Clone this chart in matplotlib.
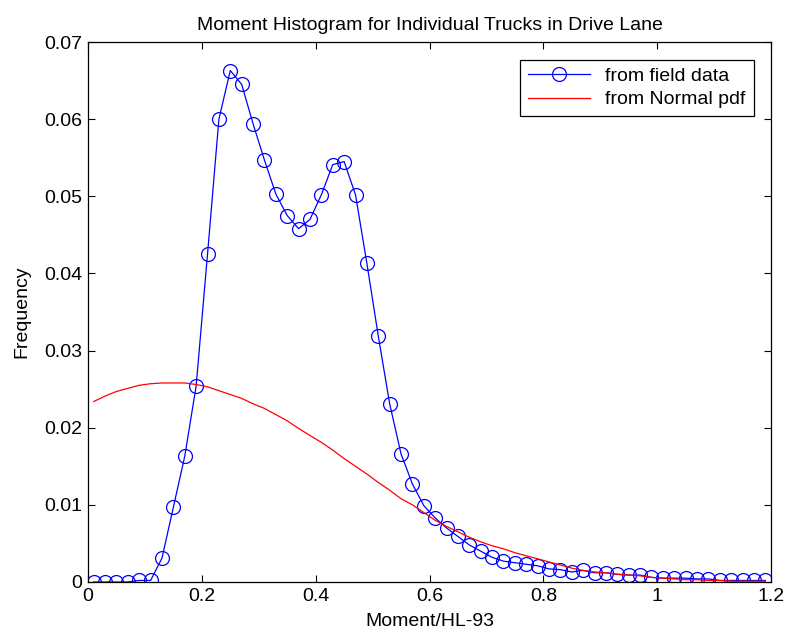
#!/usr/bin/python
import matplotlib
matplotlib.use('Agg')
import matplotlib.pyplot as plt
import numpy as np

# bin centres (Moment/HL-93)
moment = [0.01, 0.03, 0.05, 0.07, 0.09, 0.11, 0.13, 0.15, 0.17, 0.19,
          0.21, 0.23, 0.25, 0.27, 0.29, 0.31, 0.33, 0.35, 0.37, 0.39,
          0.41, 0.43, 0.45, 0.47, 0.49, 0.51, 0.53, 0.55, 0.57, 0.59,
          0.61, 0.63, 0.65, 0.67, 0.69, 0.71, 0.73, 0.75, 0.77, 0.79,
          0.81, 0.83, 0.85, 0.87, 0.89, 0.91, 0.93, 0.95, 0.97, 0.99,
          1.01, 1.03, 1.05, 1.07, 1.09, 1.11, 1.13, 1.15, 1.17, 1.19]

# frequency from field data
field = [0.0, 0.0, 0.0, 0.0, 0.0002, 0.0002, 0.0031, 0.0097, 0.0163, 0.0254,
         0.0425, 0.0600, 0.0663, 0.0645, 0.0594, 0.0547, 0.0503, 0.0475, 0.0458, 0.0470,
         0.0502, 0.0541, 0.0545, 0.0502, 0.0413, 0.0319, 0.0231, 0.0166, 0.0127, 0.0099,
         0.0083, 0.0070, 0.0059, 0.0048, 0.0040, 0.0032, 0.0027, 0.0025, 0.0023, 0.0021,
         0.0017, 0.0016, 0.0013, 0.0015, 0.0012, 0.0012, 0.0010, 0.0009, 0.0009, 0.0006,
         0.0005, 0.0005, 0.0005, 0.0004, 0.0004, 0.0002, 0.0002, 0.0002, 0.0002, 0.0002]

# frequency from normal pdf
normal = [0.0234, 0.0241, 0.0247, 0.0251, 0.0255, 0.0257, 0.0258, 0.0258, 0.0258, 0.0256,
          0.0253, 0.0248, 0.0243, 0.0238, 0.0231, 0.0225, 0.0217, 0.0209, 0.0199, 0.0190,
          0.0181, 0.0171, 0.0160, 0.0150, 0.0140, 0.0129, 0.0119, 0.0108, 0.0100, 0.0090,
          0.0080, 0.0072, 0.0065, 0.0058, 0.0052, 0.0047, 0.0043, 0.0038, 0.0034, 0.0030,
          0.0026, 0.0022, 0.0018, 0.0015, 0.0013, 0.0012, 0.0010, 0.0009, 0.0008, 0.0006,
          0.0005, 0.0004, 0.0003, 0.0003, 0.0002, 0.0002, 0.0001, 0.0001, 0.0001, 0.0001]

xticks = [0, 0.2, 0.4, 0.6, 0.8, 1, 1.2]
xticklabels = ['0', '0.2', '0.4', '0.6', '0.8', '1', '1.2']
yticks = [0, 0.01, 0.02, 0.03, 0.04, 0.05, 0.06, 0.07]
yticklabels = ['0', '0.01', '0.02', '0.03', '0.04', '0.05', '0.06', '0.07']

plt.rcParams['font.family'] = ['Liberation Sans', 'DejaVu Sans']
plt.rcParams['font.size'] = 14

fig = plt.figure(figsize=(7.88, 6.41), dpi=100)
ax = fig.add_axes([88/788., 1-582/641., (771-88)/788., (582-42)/641.])

ax.plot(moment, field, color='b', lw=0.9, marker='o', ms=10,
        mfc='none', mec='b', mew=0.9, label='from field data')
ax.plot(moment, normal, color='r', lw=0.9, label='from Normal pdf')

ax.set_xlim(0, 1.2)
ax.set_ylim(0, 0.07)
ax.set_xticks(xticks)
ax.set_xticklabels(xticklabels)
ax.set_yticks(yticks)
ax.set_yticklabels(yticklabels)
ax.tick_params(direction='in', top=True, right=True, length=5, width=0.8,
               labelsize=14, pad=4)
for s in ax.spines.values():
    s.set_linewidth(0.9)

ax.set_title('Moment Histogram for Individual Trucks in Drive Lane',
             fontsize=14, pad=9)
ax.set_xlabel('Moment/HL-93', fontsize=14, labelpad=6)
ax.set_ylabel('Frequency', fontsize=14, labelpad=10)

leg = ax.legend(loc='upper right', fontsize=14, fancybox=False,
                edgecolor='k', framealpha=1, handlelength=3.2,
                borderaxespad=0.9, labelspacing=0.3)
leg.get_frame().set_linewidth(0.9)

fig.savefig('out.png', dpi=100)
